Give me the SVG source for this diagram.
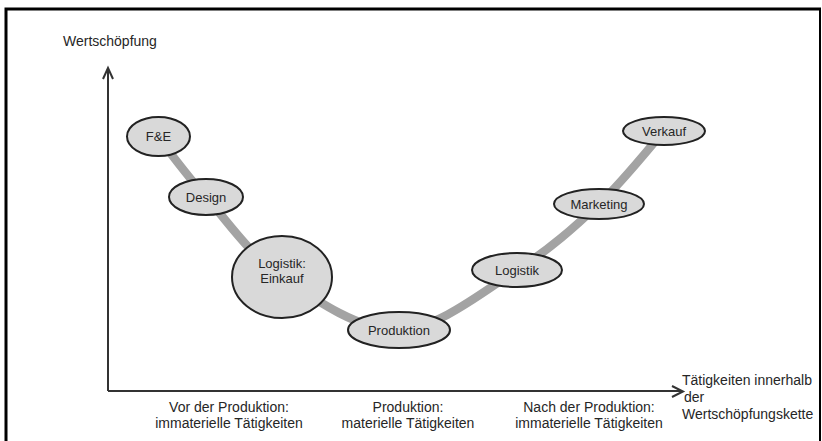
<svg xmlns="http://www.w3.org/2000/svg" width="822" height="441" viewBox="0 0 822 441">
  <style>
    .frame { stroke: #000; fill: none; }
    .axis { stroke: #333; stroke-width: 2; fill: none; }
    .head { stroke: #333; stroke-width: 2; fill: none; stroke-linejoin: miter; }
    .curve { stroke: #a3a3a3; stroke-width: 8.5; fill: none; stroke-linecap: round; }
    .node ellipse { fill: #d9d9d9; stroke: #222; stroke-width: 2; }
    text { font-family: "Liberation Sans", Arial, sans-serif; fill: #262626; }
    .nt { font-size: 13px; text-anchor: middle; }
    .lbl { font-size: 14px; }
    .mid { text-anchor: middle; }
  </style>

  <!-- outer frame (open at the bottom) -->
  <path class="frame" stroke-width="3" d="M6,441 V9 H821"/>
  <path class="frame" stroke-width="2" d="M820,9 V441"/>

  <!-- axes -->
  <g id="axes">
    <path class="axis" d="M108,391 V69"/>
    <path class="head" d="M103,79 L108,68 L113,79"/>
    <path class="axis" d="M108,391 H682"/>
    <path class="head" d="M672,386 L683,391.5 L672,397"/>
  </g>

  <!-- value-added curve -->
  <g id="connectors">
    <path class="curve" d="M158,137 C166,147 185.3,173.7 206,197 C226.7,220.3 249.8,254.8 282,277 C314.2,299.2 359.8,331.2 399,330 C438.2,328.8 483.7,291 517,270 C550.3,249 574.5,227.2 599,204 C623.5,180.8 653.2,143.2 664,131"/>
  </g>

  <g id="fue" class="node">
    <ellipse cx="158.5" cy="136.5" rx="31.5" ry="19.5"/>
    <text class="nt" x="158.5" y="141">F&amp;E</text>
  </g>
  <g id="design" class="node">
    <ellipse cx="206" cy="197" rx="37" ry="18"/>
    <text class="nt" x="206" y="201.5">Design</text>
  </g>
  <g id="logistik-einkauf" class="node">
    <ellipse cx="282" cy="277" rx="50" ry="41"/>
    <text class="nt" x="282" y="268">Logistik:</text>
    <text class="nt" x="282" y="283">Einkauf</text>
  </g>
  <g id="produktion" class="node">
    <ellipse cx="399" cy="330" rx="51" ry="18"/>
    <text class="nt" x="399" y="334.5">Produktion</text>
  </g>
  <g id="logistik" class="node">
    <ellipse cx="517" cy="270" rx="45" ry="17"/>
    <text class="nt" x="517" y="274.5">Logistik</text>
  </g>
  <g id="marketing" class="node">
    <ellipse cx="599" cy="204" rx="45" ry="15"/>
    <text class="nt" x="599" y="208.5">Marketing</text>
  </g>
  <g id="verkauf" class="node">
    <ellipse cx="664" cy="131" rx="41" ry="14"/>
    <text class="nt" x="664" y="135.5">Verkauf</text>
  </g>

  <!-- axis labels -->
  <text class="lbl" x="63" y="46">Wertschöpfung</text>
  <text class="lbl" x="682" y="385">Tätigkeiten innerhalb</text>
  <text class="lbl" x="684" y="402">der</text>
  <text class="lbl" x="682" y="419">Wertschöpfungskette</text>

  <text class="lbl mid" x="229" y="412">Vor der Produktion:</text>
  <text class="lbl mid" x="229" y="428">immaterielle Tätigkeiten</text>
  <text class="lbl mid" x="408" y="412">Produktion:</text>
  <text class="lbl mid" x="408" y="428">materielle Tätigkeiten</text>
  <text class="lbl mid" x="589" y="412">Nach der Produktion:</text>
  <text class="lbl mid" x="589" y="428">immaterielle Tätigkeiten</text>
</svg>
